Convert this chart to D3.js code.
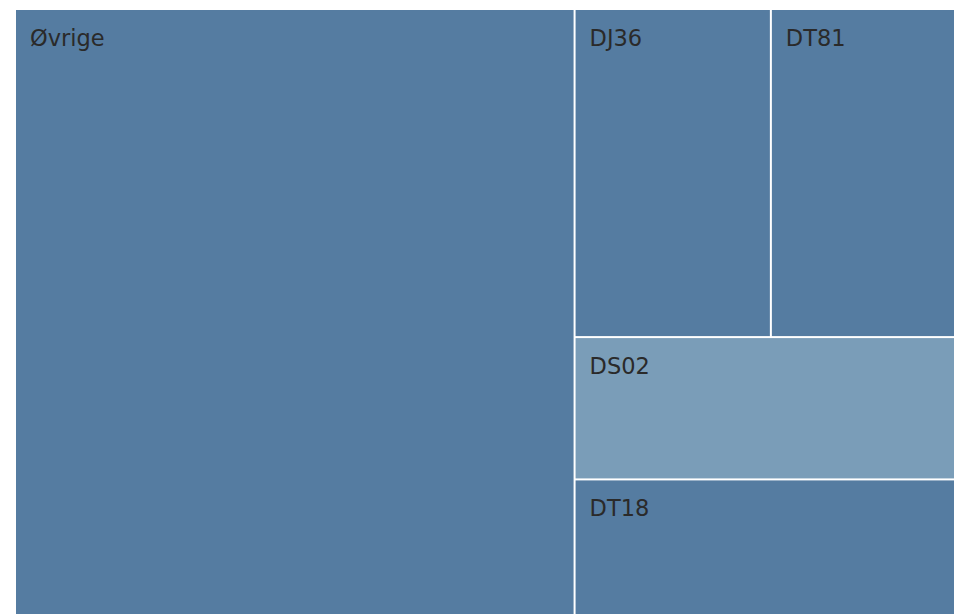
<!DOCTYPE html>
<html>
<head>
<meta charset="utf-8">
<script src="https://cdn.jsdelivr.net/npm/d3@7"></script>
<style>
  body { margin: 0; background: #fff; }
</style>
</head>
<body>
<div id="chart"></div>
<script>
// leaf labels, shares (percent) and colour group
const labels = ["Øvrige", "DJ36", "DT81", "DS02", "DT18"];
const values = [59.5, 11.3, 10.6, 9.5, 9.05];
const highlight = [false, false, false, true, false];
// how leaves are nested (index into labels)
const nesting = [0, [[1, 2], 3, 4]];

const width = 955, height = 614;
const margin = { top: 10, right: 1, bottom: 0, left: 16 };

const svg = d3.select("#chart")
    .append("svg")
    .attr("width", width)
    .attr("height", height);

function build(n) {
    if (Array.isArray(n)) return { children: n.map(build) };
    return { name: labels[n], value: values[n], hl: highlight[n] };
}

const root = d3.hierarchy(build(nesting))
    .sum(d => d.value || 0);

d3.treemap()
    .tile(d3.treemapSliceDice)
    .size([width - margin.left - margin.right, height - margin.top - margin.bottom])
    .paddingInner(2)(root);

const color = d3.scaleOrdinal()
    .domain([false, true])
    .range(["#557ca1", "#7a9db8"]);

const g = svg.append("g")
    .attr("transform", `translate(${margin.left},${margin.top})`);

const leaf = g.selectAll("g")
    .data(root.leaves())
    .enter()
    .append("g")
    .attr("transform", d => `translate(${d.x0},${d.y0})`);

leaf.append("rect")
    .attr("width", d => d.x1 - d.x0)
    .attr("height", d => d.y1 - d.y0)
    .attr("fill", d => color(d.data.hl));

leaf.append("text")
    .attr("x", 14)
    .attr("y", 36)
    .attr("font-family", "DejaVu Sans, Verdana, sans-serif")
    .attr("font-size", 22.5)
    .attr("fill", "#2a2a2a")
    .text(d => d.data.name);
</script>
</body>
</html>
